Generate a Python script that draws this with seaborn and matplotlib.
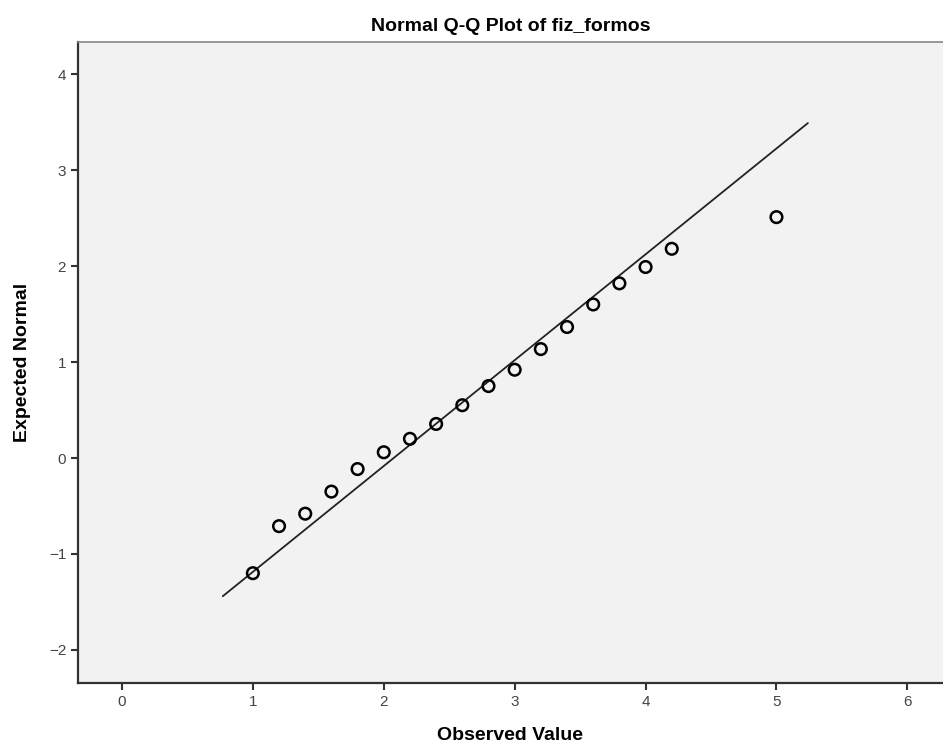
import matplotlib
matplotlib.use("Agg")
import matplotlib.pyplot as plt
import seaborn as sns
import pandas as pd

observed = [1.0, 1.2, 1.4, 1.6, 1.8, 2.0, 2.2, 2.4, 2.6, 2.8, 3.0,
            3.2, 3.4, 3.6, 3.8, 4.0, 4.2, 5.0]
expected = [-1.20, -0.71, -0.58, -0.35, -0.115, 0.06, 0.20, 0.355, 0.55,
            0.75, 0.92, 1.135, 1.365, 1.60, 1.82, 1.99, 2.18, 2.51]

# reference line end points
line_x = [0.77, 5.24]
line_y = [-1.44, 3.49]

x_ticks = [0, 1, 2, 3, 4, 5, 6]
y_ticks = [-2, -1, 0, 1, 2, 3, 4]

sns.set_style("ticks", {"axes.facecolor": "#f2f2f2"})
plt.rcParams['font.family'] = ['Liberation Sans', 'DejaVu Sans']

df = pd.DataFrame({"obs": observed, "exp": expected})
line_df = pd.DataFrame({"x": line_x, "y": line_y})

fig = plt.figure(figsize=(9.43, 7.53), dpi=100)
ax = fig.add_axes([0.0827, 0.093, 0.917, 0.851])

sns.lineplot(data=line_df, x="x", y="y", color="#222222", linewidth=1.3, ax=ax)
sns.scatterplot(data=df, x="obs", y="exp", s=70, facecolor="none",
                edgecolor="black", linewidth=1.8, ax=ax, zorder=3)

ax.set_xlim(-0.336, 6.27)
ax.set_ylim(-2.344, 4.333)
ax.set_xticks(x_ticks)
ax.set_yticks(y_ticks)
ax.set_xticklabels([str(t) for t in x_ticks])
ax.set_yticklabels([str(t).replace("-", "\u2212") for t in y_ticks])
ax.tick_params(direction="out", length=5, width=1.5, color="#333333",
               labelsize=11, labelcolor="#444444")

for side in ["left", "bottom"]:
    ax.spines[side].set_color("#333333")
    ax.spines[side].set_linewidth(1.6)
ax.spines["top"].set_color("#888888")
ax.spines["top"].set_linewidth(1.2)
ax.spines["right"].set_visible(False)

ax.set_title("Normal Q-Q Plot of fiz_formos", fontsize=14, fontweight="bold",
             color="black", pad=8)
ax.set_xlabel("Observed Value", fontsize=14, fontweight="bold", color="black", labelpad=13)
ax.set_ylabel("Expected Normal", fontsize=14, fontweight="bold", color="black", labelpad=13)

fig.savefig("out.png", dpi=100)
